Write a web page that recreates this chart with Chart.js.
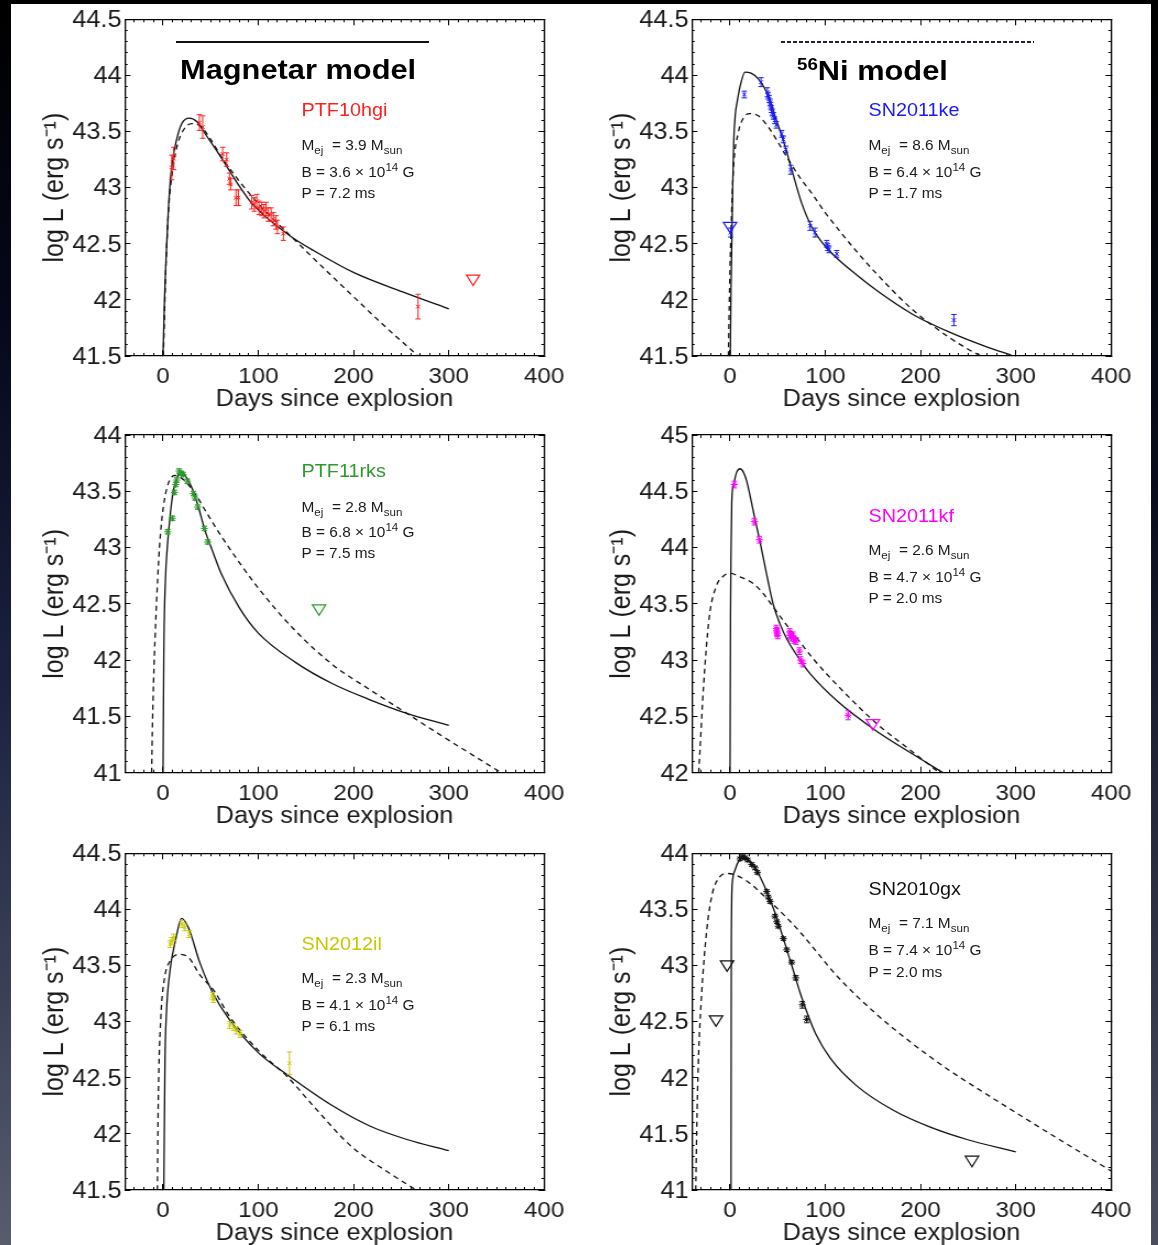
<!DOCTYPE html>
<html lang="en">
<head>
<meta charset="utf-8">
<title>Magnetar and 56Ni model light curves</title>
<script src="https://cdn.jsdelivr.net/npm/chart.js@4.4.1/dist/chart.umd.min.js"></script>
<style>
  html, body { margin:0; padding:0; }
  body { width:1158px; height:1245px; overflow:hidden; position:relative; background:#fff;
         font-family:'Liberation Sans', Arial, Helvetica, sans-serif; color:#1a1a1a; }
  #edgeL { position:absolute; left:0; top:0; width:11px; height:1245px;
           background:linear-gradient(180deg,#000 0%,#05081a 25%,#1b2240 55%,#3a4157 80%,#585d6e 100%); }
  #edgeR { position:absolute; left:1151px; top:0; width:7px; height:1245px;
           background:linear-gradient(180deg,#000 0%,#0a0d1c 40%,#2e3344 75%,#4a4f5e 100%); }
  #edgeT { position:absolute; left:0; top:0; width:1158px; height:4px; background:#000; }
  .panel { position:absolute; transform-origin:0 0; transform:scaleX(1.1); }
  .panel canvas { position:absolute; left:0; top:0; }
  .ann { position:absolute; white-space:nowrap; line-height:1; }
  .name { font-size:18px; }
  .par { font-size:14px; color:#1a1a1a; }
  .sb { font-size:10.5px; position:relative; top:4px; }
  .sp { font-size:10.5px; position:relative; top:-6px; }
  .hdr { position:absolute; z-index:5; transform-origin:0 0; transform:scaleX(1.1); white-space:nowrap;
         line-height:1; font-weight:bold; font-size:28px; color:#000; }
  .hdr .iso { font-size:17px; position:relative; top:-10px; }
  #lineMag { position:absolute; z-index:5; left:176px; top:41px; width:253px; height:1.5px; background:#111; }
  #lineNi { position:absolute; z-index:5; left:781px; top:41px; width:253px; height:1.5px;
            background:repeating-linear-gradient(90deg,#1c2333 0px,#1c2333 4px,transparent 4px,transparent 6px); }
</style>
</head>
<body>
<div id="edgeL"></div><div id="edgeR"></div><div id="edgeT"></div>
<div id="lineMag"></div>
<div class="hdr" style="left:180px;top:56px;">Magnetar model</div>
<div id="lineNi"></div>
<div class="hdr" style="left:797px;top:57px;"><span class="iso">56</span>Ni model</div>

<script>
// ---------------- axis ticks ----------------
const X_MIN = -40, X_MAX = 400;
const xMajorTicks = [0, 100, 200, 300, 400];
const xTickLabels = ['0', '100', '200', '300', '400'];
const yTicksA = [41.5, 42, 42.5, 43, 43.5, 44, 44.5];
const yLabelsA = ['41.5', '42', '42.5', '43', '43.5', '44', '44.5'];
const yTicksB = [41, 41.5, 42, 42.5, 43, 43.5, 44];
const yLabelsB = ['41', '41.5', '42', '42.5', '43', '43.5', '44'];
const yTicksC = [42, 42.5, 43, 43.5, 44, 44.5, 45];
const yLabelsC = ['42', '42.5', '43', '43.5', '44', '44.5', '45'];

// ---------------- PTF10hgi ----------------
const hgiMagDays = [0, 1.5, 3.1, 5.6, 9.1, 14.3, 19.6, 27.6, 35.3, 45.8, 56.3, 66.8, 77.3, 91.3, 105.3, 119.3, 136.8, 158, 201, 255, 300];
const hgiMagLogL = [41.5, 42.0, 42.36, 42.81, 43.19, 43.43, 43.57, 43.62, 43.59, 43.46, 43.33, 43.19, 43.05, 42.88, 42.76, 42.66, 42.55, 42.44, 42.24, 42.06, 41.92];
const hgiNiDays = [0.3, 3, 6, 10, 15, 22, 30, 38.8, 50, 61.6, 80.8, 101.8, 119.3, 140, 158, 180, 201, 236, 268];
const hgiNiLogL = [41.5, 42.3, 42.83, 43.15, 43.38, 43.52, 43.57, 43.55, 43.43, 43.27, 43.05, 42.84, 42.69, 42.52, 42.37, 42.19, 42.02, 41.74, 41.5];
const hgiDays = [9.1, 11.2, 38.1, 41.6, 62.6, 66.8, 69.7, 71.0, 76.6, 79.1, 93.1, 95.9, 98.4, 100.8, 103.6, 106.0, 108.1, 110.6, 113.4, 115.8, 118.6, 120.0, 126.3, 267.7];
const hgiLogL = [43.18, 43.26, 43.58, 43.54, 43.30, 43.25, 43.08, 43.03, 42.91, 42.91, 42.87, 42.85, 42.88, 42.82, 42.81, 42.79, 42.81, 42.76, 42.76, 42.72, 42.69, 42.65, 42.59, 41.94];
const hgiErr = [0.11, 0.10, 0.07, 0.10, 0.06, 0.06, 0.05, 0.05, 0.07, 0.07, 0.06, 0.06, 0.06, 0.06, 0.06, 0.06, 0.06, 0.06, 0.06, 0.06, 0.06, 0.06, 0.06, 0.11];
const hgiLimDays = [325.5];
const hgiLimLogL = [42.19];

// ---------------- SN2011ke ----------------
const keMagDays = [0.3, 1, 2, 3, 3.9, 5.5, 7.8, 11, 15.7, 22, 29.7, 40.2, 47.2, 57.7, 64.8, 75.3, 85.8, 99.7, 113.7, 126, 153, 192, 231, 270, 295];
const keMagLogL = [41.5, 42.1, 42.59, 43.1, 43.42, 43.65, 43.78, 43.92, 44.03, 44.02, 43.97, 43.82, 43.64, 43.37, 43.16, 42.86, 42.65, 42.48, 42.36, 42.27, 42.09, 41.87, 41.71, 41.58, 41.51];
const keNiDays = [-1.7, -0.5, 1, 3.5, 8.7, 14, 21, 29.7, 40.2, 50.7, 61.2, 75, 85.8, 99.7, 114.5, 126, 153, 192, 231, 250, 266];
const keNiLogL = [41.5, 42.1, 42.6, 43.16, 43.49, 43.62, 43.66, 43.64, 43.54, 43.40, 43.25, 43.07, 42.95, 42.78, 42.62, 42.50, 42.24, 41.91, 41.66, 41.56, 41.49];
const keDays = [0.5, 15.0, 32.5, 39.2, 39.9, 41.0, 42.0, 42.7, 43.4, 44.4, 45.5, 46.9, 48.6, 54.2, 56.0, 58.5, 63.7, 84.0, 89.2, 101.5, 102.5, 104.0, 112.0, 235.0];
const keLogL = [42.60, 43.83, 43.94, 43.85, 43.82, 43.79, 43.76, 43.73, 43.70, 43.67, 43.64, 43.60, 43.56, 43.48, 43.43, 43.34, 43.16, 42.66, 42.60, 42.50, 42.47, 42.45, 42.41, 41.82];
const keErr = [0.04, 0.03, 0.04, 0.04, 0.03, 0.03, 0.03, 0.03, 0.03, 0.03, 0.03, 0.03, 0.03, 0.03, 0.03, 0.03, 0.04, 0.04, 0.04, 0.03, 0.03, 0.03, 0.03, 0.05];
const keLimDays = [0];
const keLimLogL = [42.66];

// ---------------- PTF11rks ----------------
const rksMagDays = [0, 0.8, 2.7, 4, 7.3, 10.9, 16.1, 18.9, 24.8, 31.8, 37.1, 44.1, 52.8, 61, 80.5, 100, 139, 178, 216.6, 255, 300];
const rksMagLogL = [41.0, 42.06, 42.75, 42.95, 43.27, 43.51, 43.65, 43.67, 43.62, 43.50, 43.36, 43.15, 42.95, 42.77, 42.46, 42.24, 41.98, 41.79, 41.65, 41.53, 41.42];
const rksNiDays = [-12, -11, -9, -4.5, -1.4, 2, 6, 12, 22, 33.6, 45, 62, 100, 139, 178, 216.6, 248, 294, 355];
const rksNiLogL = [41.0, 41.47, 42.06, 42.9, 43.24, 43.45, 43.58, 43.64, 43.60, 43.48, 43.32, 43.09, 42.64, 42.26, 41.96, 41.74, 41.57, 41.32, 41.0];
const rksDays = [4.9, 9.8, 11.9, 13.3, 14.4, 16.8, 18.9, 21.2, 25.5, 31.8, 33.6, 36.4, 43.4, 46.9];
const rksLogL = [43.14, 43.26, 43.49, 43.56, 43.60, 43.68, 43.66, 43.65, 43.59, 43.48, 43.44, 43.36, 43.17, 43.05];
const rksErr = [0.02, 0.02, 0.02, 0.02, 0.02, 0.02, 0.02, 0.02, 0.02, 0.02, 0.02, 0.02, 0.02, 0.02];
const rksLimDays = [163.8];
const rksLimLogL = [42.46];

// ---------------- SN2011kf ----------------
const kfMagDays = [0, 0.5, 1, 1.8, 4, 7, 10.5, 14, 17.5, 24.5, 31.5, 38.5, 45.5, 52.5, 59.5, 73.5, 84, 113.4, 152, 190.8, 223.6];
const kfMagLogL = [42.0, 43.4, 43.95, 44.41, 44.57, 44.67, 44.70, 44.67, 44.59, 44.32, 44.05, 43.76, 43.49, 43.32, 43.19, 43.00, 42.88, 42.63, 42.38, 42.17, 42.0];
const kfNiDays = [-32.9, -31.7, -27.8, -22, -14.3, -6.5, 0.4, 10.5, 24.5, 35, 45.5, 59.5, 73.5, 87.5, 113.4, 152.1, 190.8, 219.8];
const kfNiLogL = [42.0, 42.18, 42.77, 43.37, 43.66, 43.75, 43.77, 43.74, 43.68, 43.59, 43.47, 43.31, 43.16, 43.01, 42.77, 42.45, 42.19, 42.0];
const kfDays = [4.5, 25.5, 30.8, 48.5, 49.0, 49.5, 50.0, 62.5, 63.0, 64.0, 66.0, 67.0, 69.3, 72.8, 74.2, 76.3, 123.9];
const kfLogL = [44.56, 44.23, 44.07, 43.28, 43.26, 43.24, 43.22, 43.25, 43.22, 43.20, 43.22, 43.18, 43.17, 43.08, 43.00, 42.97, 42.51];
const kfErr = [0.03, 0.03, 0.03, 0.03, 0.03, 0.03, 0.03, 0.03, 0.03, 0.03, 0.03, 0.03, 0.03, 0.03, 0.03, 0.03, 0.04];
const kfLimDays = [150];
const kfLimLogL = [42.44];

// ---------------- SN2012il ----------------
const ilMagDays = [0.8, 2, 3.5, 7.4, 13.2, 19.5, 27, 38.4, 52, 69.5, 100.5, 131.5, 178, 217, 256, 300];
const ilMagLogL = [41.5, 42.63, 43.07, 43.46, 43.73, 43.92, 43.83, 43.53, 43.26, 43.02, 42.72, 42.52, 42.25, 42.07, 41.95, 41.85];
const ilNiDays = [-6, -5, -2.3, 1.6, 7.4, 17, 27, 38.4, 54, 69.5, 100.5, 131.5, 158.7, 197.5, 236, 267.5];
const ilNiLogL = [41.5, 42.30, 43.04, 43.39, 43.54, 43.60, 43.57, 43.42, 43.27, 43.05, 42.74, 42.50, 42.24, 41.89, 41.66, 41.49];
const ilDays = [7.4, 9.3, 11.3, 19.8, 22.9, 27.6, 52.0, 52.8, 70.0, 74.0, 77.2, 81.0, 132.7];
const ilLogL = [43.69, 43.72, 43.75, 43.87, 43.84, 43.78, 43.23, 43.20, 42.97, 42.95, 42.92, 42.89, 42.63];
const ilErr = [0.03, 0.03, 0.03, 0.03, 0.03, 0.03, 0.03, 0.03, 0.03, 0.03, 0.03, 0.03, 0.10];
const ilLimDays = [];
const ilLimLogL = [];

// ---------------- SN2010gx ----------------
const gxMagDays = [1, 1.3, 2.4, 5.2, 10.5, 14, 22.8, 29.7, 38.5, 47.2, 56, 64.8, 73.5, 82.2, 90, 105.6, 132.7, 171.4, 210.2, 248.8, 300];
const gxMagLogL = [41.0, 43.2, 43.74, 43.85, 43.95, 43.97, 43.91, 43.82, 43.66, 43.47, 43.24, 43.00, 42.76, 42.55, 42.39, 42.17, 41.93, 41.71, 41.56, 41.45, 41.34];
const gxNiDays = [-36, -35, -33.3, -30, -24.4, -18.6, -10.9, -3, 16.3, 35.7, 59, 74.4, 113, 152, 190.7, 229.5, 268, 300, 345.7, 400];
const gxNiLogL = [41.0, 41.53, 42.13, 42.72, 43.32, 43.64, 43.79, 43.82, 43.76, 43.62, 43.43, 43.29, 42.90, 42.58, 42.31, 42.07, 41.86, 41.69, 41.45, 41.17];
const gxDays = [10.5, 13.0, 15.7, 18.5, 22.8, 26.3, 28.7, 38.5, 40.2, 42.0, 47.2, 49.0, 50.7, 56.0, 59.5, 64.7, 69.0, 75.9, 80.5];
const gxLogL = [43.95, 43.97, 43.96, 43.94, 43.90, 43.87, 43.83, 43.66, 43.61, 43.57, 43.44, 43.39, 43.35, 43.24, 43.14, 43.03, 42.89, 42.65, 42.52];
const gxErr = [0.015, 0.015, 0.015, 0.015, 0.015, 0.015, 0.015, 0.015, 0.015, 0.015, 0.015, 0.015, 0.015, 0.015, 0.015, 0.015, 0.02, 0.03, 0.03];
const gxLimDays = [-3.1, -14.7, 254];
const gxLimLogL = [43.01, 42.52, 41.27];

// ---------------- rendering ----------------
const FONT = "'Liberation Sans', Arial, Helvetica, sans-serif";
const INK = '#1a1a1a';
const PANEL_W = 491;          // canvas px (displayed stretched by 1.1)
const Y_AXIS_W = 86.3;
const RIGHT_PAD = 23.7;
const SX = 1.1;

const panels = [
  { left:30,  canvasTop:0,   plotTop:19.3,  plotBottom:356,    yMin:41.5, yMax:44.5, yTicks:yTicksA, yLabels:yLabelsA,
    color:'#ff1f1f', mark:'crossRot', name:'PTF10hgi', mej:'3.9', b:'3.6', per:'7.2', annX:301.5, capY:[109.7,145,171.7,192.7],
    mag:[hgiMagDays,hgiMagLogL], ni:[hgiNiDays,hgiNiLogL], obs:[hgiDays,hgiLogL,hgiErr], lim:[hgiLimDays,hgiLimLogL] },
  { left:597, canvasTop:0,   plotTop:19.3,  plotBottom:356,    yMin:41.5, yMax:44.5, yTicks:yTicksA, yLabels:yLabelsA,
    color:'#1a1aff', mark:'crossRot', name:'SN2011ke', mej:'8.6', b:'6.4', per:'1.7', annX:868.5, capY:[109.7,145,171.7,192.7],
    mag:[keMagDays,keMagLogL], ni:[keNiDays,keNiLogL], obs:[keDays,keLogL,keErr], lim:[keLimDays,keLimLogL] },
  { left:30,  canvasTop:416, plotTop:435,   plotBottom:772.7,  yMin:41, yMax:44, yTicks:yTicksB, yLabels:yLabelsB,
    color:'#2e9a2e', mark:'star', name:'PTF11rks', mej:'2.8', b:'6.8', per:'7.5', annX:301.5, capY:[471,506.7,531.7,553],
    mag:[rksMagDays,rksMagLogL], ni:[rksNiDays,rksNiLogL], obs:[rksDays,rksLogL,rksErr], lim:[rksLimDays,rksLimLogL] },
  { left:597, canvasTop:416, plotTop:435,   plotBottom:772.7,  yMin:42, yMax:45, yTicks:yTicksC, yLabels:yLabelsC,
    color:'#ff00ff', mark:'star', name:'SN2011kf', mej:'2.6', b:'4.7', per:'2.0', annX:868.5, capY:[516.3,550,576.7,598.3],
    mag:[kfMagDays,kfMagLogL], ni:[kfNiDays,kfNiLogL], obs:[kfDays,kfLogL,kfErr], lim:[kfLimDays,kfLimLogL] },
  { left:30,  canvasTop:834, plotTop:853.3, plotBottom:1190,   yMin:41.5, yMax:44.5, yTicks:yTicksA, yLabels:yLabelsA,
    color:'#c8c800', mark:'crossRot', name:'SN2012il', mej:'2.3', b:'4.1', per:'6.1', annX:301.5, capY:[944,978.3,1004.7,1026],
    mag:[ilMagDays,ilMagLogL], ni:[ilNiDays,ilNiLogL], obs:[ilDays,ilLogL,ilErr], lim:[ilLimDays,ilLimLogL] },
  { left:597, canvasTop:834, plotTop:853.3, plotBottom:1190,   yMin:41, yMax:44, yTicks:yTicksB, yLabels:yLabelsB,
    color:'#111111', mark:'star', name:'SN2010gx', mej:'7.1', b:'7.4', per:'2.0', annX:868.5, capY:[889,923.3,950,971.7],
    mag:[gxMagDays,gxMagLogL], ni:[gxNiDays,gxNiLogL], obs:[gxDays,gxLogL,gxErr], lim:[gxLimDays,gxLimLogL] }
];

function pts(xs, ys) { return xs.map((x, i) => ({ x: x, y: ys[i] })); }
function setTicks(values) { return (s) => { s.ticks = values.map(v => ({ value: v })); }; }
function fix(prop, val) {
  return (s) => { s[prop] = val; s.paddingLeft = 0; s.paddingRight = 0; s.paddingTop = 0; s.paddingBottom = 0; };
}
function curve(xs, ys, dashed) {
  return { label: dashed ? '56Ni model' : 'Magnetar model', data: pts(xs, ys), xAxisID:'x', yAxisID:'y',
    showLine: true, pointRadius: 0, pointHoverRadius: 0, borderColor: '#111', borderWidth: 1.3,
    borderDash: dashed ? [5, 4] : [], cubicInterpolationMode: 'monotone', order: 5 };
}
function errorBars(xs, ys, es, color) {
  const d = [];
  xs.forEach((x, i) => { d.push({ x: x, y: ys[i] - es[i] }, { x: x, y: ys[i] + es[i] }, { x: x, y: null }); });
  return { label: 'errors', data: d, xAxisID:'x', yAxisID:'y', showLine: true, spanGaps: false,
    borderColor: color, borderWidth: 1, pointStyle: 'line', pointRadius: 2.4, pointHoverRadius: 2.4,
    pointBorderColor: color, pointBorderWidth: 1, order: 3 };
}
function markers(xs, ys, color, style) {
  return { label: 'data', data: pts(xs, ys), xAxisID:'x', yAxisID:'y', showLine: false,
    pointStyle: style, pointRadius: style === 'star' ? 3.2 : 2.6, pointHoverRadius: 3,
    pointBorderColor: color, pointBackgroundColor: color, pointBorderWidth: 1, order: 2 };
}
function limits(xs, ys, color) {
  return { label: 'upper limits', data: pts(xs, ys), xAxisID:'x', yAxisID:'y', showLine: false,
    pointStyle: 'triangle', pointRotation: 180, pointRadius: 7, pointHoverRadius: 7,
    pointBorderColor: color, pointBackgroundColor: 'rgba(0,0,0,0)', pointBorderWidth: 1.2, order: 1 };
}

function tickAxis(axis, position, weight, min, max, values, len, drawBorder, extra) {
  const base = {
    type: 'linear', axis: axis, position: position, weight: weight, min: min, max: max, bounds: 'data',
    afterBuildTicks: setTicks(values),
    ticks: { display: false, autoSkip: false },
    grid: { display: true, drawOnChartArea: false, drawTicks: true, tickLength: len, tickColor: '#000', tickWidth: 1 },
    border: { display: drawBorder, color: '#000', width: 1.3 },
    afterFit: fix(axis === 'x' ? 'height' : 'width', 0)
  };
  return Object.assign(base, extra || {});
}

function build(p) {
  const wrap = document.createElement('div');
  wrap.className = 'panel';
  const h = Math.round(p.plotBottom + 58 - p.canvasTop);
  wrap.style.left = p.left + 'px';
  wrap.style.top = p.canvasTop + 'px';
  wrap.style.width = PANEL_W + 'px';
  wrap.style.height = h + 'px';
  const cv = document.createElement('canvas');
  cv.width = PANEL_W; cv.height = h;
  cv.style.width = PANEL_W + 'px'; cv.style.height = h + 'px';
  wrap.appendChild(cv);
  document.body.appendChild(wrap);

  const padTop = p.plotTop - p.canvasTop;
  const xAxisH = h - (p.plotBottom - p.canvasTop);
  const xMinor = [];
  for (let v = X_MIN; v <= X_MAX; v += 10) xMinor.push(v);
  const yMinor = [];
  for (let k = Math.round(p.yMin * 10); k <= Math.round(p.yMax * 10); k++) yMinor.push(k / 10);

  const datasets = [
    curve(p.mag[0], p.mag[1], false),
    curve(p.ni[0], p.ni[1], true),
    errorBars(p.obs[0], p.obs[1], p.obs[2], p.color),
    markers(p.obs[0], p.obs[1], p.color, p.mark)
  ];
  if (p.lim[0].length) datasets.push(limits(p.lim[0], p.lim[1], p.color));

  const scales = {
    x: tickAxis('x', 'bottom', 2, X_MIN, X_MAX, xMajorTicks, -6, true, {
      ticks: { display: true, autoSkip: false, maxRotation: 0, minRotation: 0, font: { family: FONT, size: 22 },
               color: INK, padding: 14, callback: (v, i) => xTickLabels[i] },
      title: { display: true, text: 'Days since explosion', font: { family: FONT, size: 23 }, color: INK,
               padding: { top: 0, bottom: 1 } },
      afterFit: fix('height', xAxisH)
    }),
    xMinor: tickAxis('x', 'bottom', 1, X_MIN, X_MAX, xMinor, -3, false),
    xTop: tickAxis('x', 'top', 2, X_MIN, X_MAX, xMajorTicks, -6, true),
    xTopMinor: tickAxis('x', 'top', 1, X_MIN, X_MAX, xMinor, -3, false),
    y: tickAxis('y', 'left', 2, p.yMin, p.yMax, p.yTicks, -5, true, {
      ticks: { display: true, autoSkip: false, font: { family: FONT, size: 23 }, color: INK, padding: 8,
               labelOffset: 1.5, callback: (v, i) => p.yLabels[i] },
      title: { display: true, text: 'log L (erg s\u207B\u00B9)', font: { family: FONT, size: 25 }, color: INK,
               padding: { top: 8, bottom: 0 } },
      afterFit: fix('width', Y_AXIS_W)
    }),
    yMinor: tickAxis('y', 'left', 1, p.yMin, p.yMax, yMinor, -2.5, false),
    yRight: tickAxis('y', 'right', 2, p.yMin, p.yMax, p.yTicks, -5, true),
    yRightMinor: tickAxis('y', 'right', 1, p.yMin, p.yMax, yMinor, -2.5, false)
  };

  new Chart(cv, {
    type: 'scatter',
    data: { datasets: datasets },
    options: {
      responsive: false, maintainAspectRatio: false, animation: false, devicePixelRatio: 1, events: [],
      layout: { padding: { top: padTop, right: RIGHT_PAD, bottom: 0, left: 0 }, autoPadding: false },
      plugins: { legend: { display: false }, tooltip: { enabled: false } },
      scales: scales
    }
  });

  // annotations (inside the stretched panel, unstretched coordinates)
  const ax = (p.annX - p.left) / SX;
  const lines = [
    { cls: 'ann name', html: p.name, color: p.color, fs: 18 },
    { cls: 'ann par', html: 'M<span class="sb">ej</span>&nbsp; = ' + p.mej + ' M<span class="sb">sun</span>', fs: 14 },
    { cls: 'ann par', html: 'B = ' + p.b + ' \u00D7 10<span class="sp">14</span> G', fs: 14 },
    { cls: 'ann par', html: 'P = ' + p.per + ' ms', fs: 14 }
  ];
  lines.forEach((ln, i) => {
    const el = document.createElement('div');
    el.className = ln.cls;
    el.innerHTML = ln.html;
    el.style.left = ax + 'px';
    el.style.top = (p.capY[i] - p.canvasTop - ln.fs * 0.49) + 'px';
    if (ln.color) el.style.color = ln.color;
    wrap.appendChild(el);
  });
}

panels.forEach(build);
</script>
</body>
</html>
